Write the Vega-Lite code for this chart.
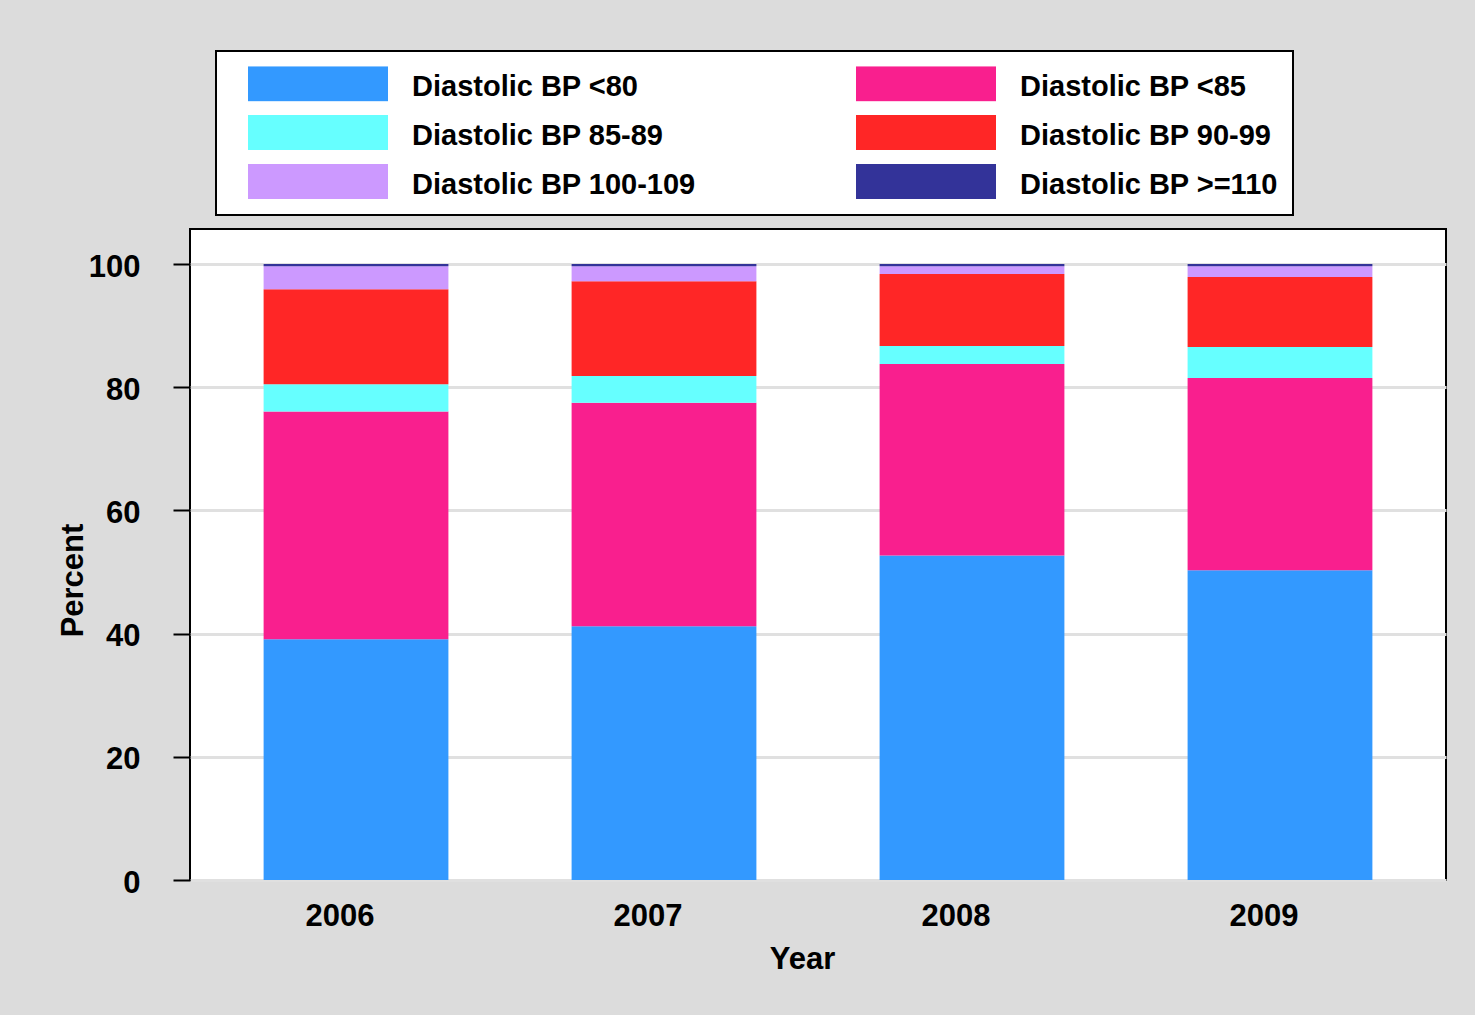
{
  "$schema": "https://vega.github.io/schema/vega-lite/v6.json",
  "width": 1256,
  "height": 651,
  "autosize": {"type": "none"},
  "padding": {"left": 190, "top": 229, "right": 29, "bottom": 135},
  "background": "#dcdcdc",
  "config": {
    "view": {"fill": "white", "stroke": "black", "strokeWidth": 2},
    "font": "Liberation Sans"
  },
  "data": {
    "values": [
      {"year": "2006", "category": "Diastolic BP <80", "rank": 1, "percent": 39.1},
      {"year": "2006", "category": "Diastolic BP <85", "rank": 2, "percent": 36.95},
      {"year": "2006", "category": "Diastolic BP 85-89", "rank": 3, "percent": 4.45},
      {"year": "2006", "category": "Diastolic BP 90-99", "rank": 4, "percent": 15.4},
      {"year": "2006", "category": "Diastolic BP 100-109", "rank": 5, "percent": 3.77},
      {"year": "2006", "category": "Diastolic BP >=110", "rank": 6, "percent": 0.33},
      {"year": "2007", "category": "Diastolic BP <80", "rank": 1, "percent": 41.2},
      {"year": "2007", "category": "Diastolic BP <85", "rank": 2, "percent": 36.3},
      {"year": "2007", "category": "Diastolic BP 85-89", "rank": 3, "percent": 4.35},
      {"year": "2007", "category": "Diastolic BP 90-99", "rank": 4, "percent": 15.35},
      {"year": "2007", "category": "Diastolic BP 100-109", "rank": 5, "percent": 2.47},
      {"year": "2007", "category": "Diastolic BP >=110", "rank": 6, "percent": 0.33},
      {"year": "2008", "category": "Diastolic BP <80", "rank": 1, "percent": 52.7},
      {"year": "2008", "category": "Diastolic BP <85", "rank": 2, "percent": 31.1},
      {"year": "2008", "category": "Diastolic BP 85-89", "rank": 3, "percent": 2.9},
      {"year": "2008", "category": "Diastolic BP 90-99", "rank": 4, "percent": 11.7},
      {"year": "2008", "category": "Diastolic BP 100-109", "rank": 5, "percent": 1.27},
      {"year": "2008", "category": "Diastolic BP >=110", "rank": 6, "percent": 0.33},
      {"year": "2009", "category": "Diastolic BP <80", "rank": 1, "percent": 50.3},
      {"year": "2009", "category": "Diastolic BP <85", "rank": 2, "percent": 31.2},
      {"year": "2009", "category": "Diastolic BP 85-89", "rank": 3, "percent": 5.05},
      {"year": "2009", "category": "Diastolic BP 90-99", "rank": 4, "percent": 11.35},
      {"year": "2009", "category": "Diastolic BP 100-109", "rank": 5, "percent": 1.77},
      {"year": "2009", "category": "Diastolic BP >=110", "rank": 6, "percent": 0.33}
    ]
  },
  "mark": {"type": "bar"},
  "encoding": {
    "x": {
      "field": "year",
      "type": "nominal",
      "scale": {"paddingInner": 0.4, "paddingOuter": 0.239},
      "axis": {
        "domain": false,
        "ticks": false,
        "labelAngle": 0,
        "labelFont": "Liberation Sans",
        "labelFontSize": 31,
        "labelFontWeight": "bold",
        "labelColor": "black",
        "labelPadding": 21,
        "labelOffset": -16,
        "title": "Year",
        "titleFont": "Liberation Sans",
        "titleFontSize": 31,
        "titleFontWeight": "bold",
        "titleColor": "black",
        "titleX": 612,
        "titleY": 88,
        "titleBaseline": "alphabetic"
      }
    },
    "y": {
      "field": "percent",
      "type": "quantitative",
      "stack": "zero",
      "scale": {"domain": [0, 105.7], "nice": false},
      "axis": {
        "values": [0, 20, 40, 60, 80, 100],
        "grid": true,
        "gridColor": "#e0e0e0",
        "gridWidth": 3,
        "domain": false,
        "tickColor": "black",
        "tickSize": 17,
        "tickWidth": 2,
        "labelFont": "Liberation Sans",
        "labelFontSize": 31,
        "labelFontWeight": "bold",
        "labelColor": "black",
        "labelPadding": 33,
        "labelOffset": 3,
        "title": "Percent",
        "titleFont": "Liberation Sans",
        "titleFontSize": 31,
        "titleFontWeight": "bold",
        "titleColor": "black",
        "titleX": -108,
        "titleY": 351,
        "titleBaseline": "alphabetic"
      }
    },
    "color": {
      "field": "category",
      "type": "nominal",
      "scale": {
        "domain": ["Diastolic BP <80", "Diastolic BP <85", "Diastolic BP 85-89", "Diastolic BP 90-99", "Diastolic BP 100-109", "Diastolic BP >=110"],
        "range": ["#3399ff", "#f91f8e", "#66ffff", "#ff2626", "#cc99ff", "#333399"]
      },
      "legend": {
        "orient": "none",
        "legendX": 26,
        "legendY": -178,
        "direction": "horizontal",
        "columns": 2,
        "title": null,
        "symbolType": "M-1,-0.25H1V0.25H-1Z",
        "symbolSize": 19600,
        "symbolStrokeWidth": 0,
        "symbolOpacity": 1,
        "clipHeight": 35,
        "labelFont": "Liberation Sans",
        "labelFontSize": 29,
        "labelFontWeight": "bold",
        "labelColor": "black",
        "labelOffset": 24,
        "labelLimit": 600,
        "rowPadding": 13,
        "columnPadding": 143,
        "padding": 15,
        "symbolOffset": 17,
        "strokeColor": "black",
        "fillColor": "white",
        "encode": {
          "legend": {"update": {"strokeWidth": {"value": 2}}},
          "labels": {"update": {"dy": {"value": 3}}}
        }
      }
    },
    "order": {"field": "rank", "type": "quantitative"}
  }
}
